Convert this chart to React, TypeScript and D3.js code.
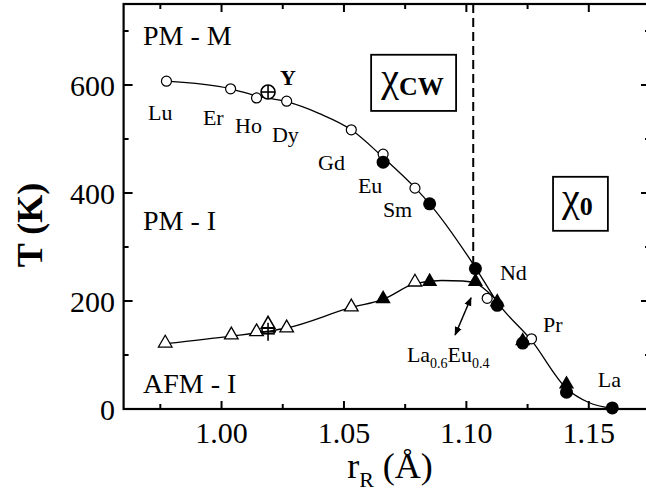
import React from "react";
import * as d3 from "d3";

// upper transition (PM-M / PM-I), open circles
const openCircles = [
  [0.9775, 607], [1.0037, 593], [1.0143, 576], [1.0266, 570], [1.053, 517],
  [1.066, 472], [1.079, 409], [1.1085, 205], [1.1266, 130],
];
const filledCircles = [
  [1.066, 457], [1.085, 380], [1.1037, 260], [1.1126, 192], [1.123, 122],
  [1.1409, 31], [1.1596, 2],
];
// lower transition (AFM-I), triangles
const openTriangles = [
  [0.977, 122], [1.004, 137], [1.0143, 143], [1.0266, 150], [1.053, 189], [1.079, 235],
];
const filledTriangles = [
  [1.066, 204], [1.085, 236], [1.1037, 236], [1.1126, 198], [1.123, 126], [1.1409, 46],
];
const yttriumCircle = [1.019, 587];
const yttriumTriangle = [1.019, 157];
const yttriumCross = [1.019, 143];

const upperCurve = [
  [0.9775, 607], [1.0037, 593], [1.0143, 580], [1.0266, 569], [1.04, 547],
  [1.053, 517], [1.066, 466], [1.079, 410], [1.085, 380], [1.1037, 262],
  [1.1126, 198], [1.1266, 127], [1.1409, 38], [1.15, 12], [1.1596, 1],
];
const lowerCurve = [
  [0.977, 121], [1.004, 135], [1.019, 144], [1.0266, 150], [1.053, 188],
  [1.066, 203], [1.079, 232], [1.09, 238], [1.0985, 237], [1.1037, 233],
  [1.1085, 218], [1.1126, 200],
];

const xMajor = [1.0, 1.05, 1.1, 1.15];
const xMinor = [0.975, 1.025, 1.075, 1.125];
const yMajor = [0, 200, 400, 600];
const yMinor = [100, 300, 500, 700];

const elementLabels = [
  { t: "Lu", x: 0.970, y: 535 },
  { t: "Er", x: 0.9924, y: 526 },
  { t: "Ho", x: 1.0055, y: 511 },
  { t: "Dy", x: 1.0206, y: 494 },
  { t: "Gd", x: 1.0394, y: 443 },
  { t: "Eu", x: 1.0557, y: 400 },
  { t: "Sm", x: 1.0659, y: 356 },
  { t: "Nd", x: 1.1137, y: 239 },
  { t: "Pr", x: 1.1313, y: 143 },
  { t: "La", x: 1.1537, y: 41 },
];
const phaseLabels = [
  { t: "PM - M", x: 0.9679, y: 674 },
  { t: "PM - I", x: 0.9679, y: 331 },
  { t: "AFM - I", x: 0.9679, y: 30 },
];
const boundaryX = 1.1028;

const width = 646;
const height = 495;
const serif = "Liberation Serif";

export default function App() {
  const x = d3.scaleLinear().domain([0.96, 1.175]).range([123.6, 650]);
  const y = d3.scaleLinear().domain([0, 750]).range([409, 4]);
  const line = d3
    .line<number[]>()
    .x((d) => x(d[0]))
    .y((d) => y(d[1]))
    .curve(d3.curveMonotoneX);
  const tri = d3.symbol().type(d3.symbolTriangle).size(80)();
  const triBig = d3.symbol().type(d3.symbolTriangle).size(100)();

  const left = x.range()[0];
  const right = x.range()[1];
  const top = y.range()[1];
  const bottom = y.range()[0];

  return (
    <svg
      width={width}
      height={height}
      style={{ position: "absolute", left: 0, top: 0, background: "#fff", fontFamily: serif }}
    >
      <defs>
        <marker id="ah" viewBox="0 0 10 10" refX="9" refY="5" markerWidth="6" markerHeight="6" orient="auto-start-reverse">
          <path d="M0,1 L10,5 L0,9 z" fill="#000" />
        </marker>
      </defs>

      {/* curves */}
      <path d={line(upperCurve) ?? ""} fill="none" stroke="#000" strokeWidth={1.3} />
      <path d={line(lowerCurve) ?? ""} fill="none" stroke="#000" strokeWidth={1.3} />

      {/* dashed boundary */}
      <line
        x1={x(boundaryX)}
        x2={x(boundaryX)}
        y1={top}
        y2={y(262)}
        stroke="#000"
        strokeWidth={2}
        strokeDasharray="9,5"
      />

      {/* markers */}
      {openTriangles.map((d, i) => (
        <path key={"ot" + i} d={tri ?? ""} transform={`translate(${x(d[0])},${y(d[1])})`} fill="#fff" stroke="#000" strokeWidth={1.3} />
      ))}
      {filledTriangles.map((d, i) => (
        <path key={"ft" + i} d={triBig ?? ""} transform={`translate(${x(d[0])},${y(d[1])})`} fill="#000" />
      ))}
      {openCircles.map((d, i) => (
        <circle key={"oc" + i} cx={x(d[0])} cy={y(d[1])} r={5} fill="#fff" stroke="#000" strokeWidth={1.2} />
      ))}
      {filledCircles.map((d, i) => (
        <circle key={"fc" + i} cx={x(d[0])} cy={y(d[1])} r={6.5} fill="#000" />
      ))}

      {/* Y: circle with cross, triangle with cross */}
      <g transform={`translate(${x(yttriumCircle[0])},${y(yttriumCircle[1])})`}>
        <circle r={7} fill="#fff" stroke="#000" strokeWidth={1.6} />
        <line x1={-7} x2={7} y1={0} y2={0} stroke="#000" strokeWidth={1.6} />
        <line x1={0} x2={0} y1={-7} y2={7} stroke="#000" strokeWidth={1.6} />
      </g>
      <path d={tri ?? ""} transform={`translate(${x(yttriumTriangle[0])},${y(yttriumTriangle[1])})`} fill="none" stroke="#000" strokeWidth={1.6} />
      <g transform={`translate(${x(yttriumCross[0])},${y(yttriumCross[1])})`} stroke="#000" strokeWidth={1.6}>
        <line x1={-8} x2={8} y1={0} y2={0} />
        <line x1={0} x2={0} y1={-9} y2={9} />
        <rect x={-6} y={-4} width={12} height={6} fill="none" />
      </g>

      {/* frame */}
      <rect x={left} y={top} width={right - left} height={bottom - top} fill="none" stroke="#000" strokeWidth={2.2} />

      {/* ticks */}
      {xMajor.map((v) => (
        <g key={"xM" + v}>
          <line x1={x(v)} x2={x(v)} y1={bottom} y2={bottom - 8} stroke="#000" strokeWidth={2} />
          <line x1={x(v)} x2={x(v)} y1={top} y2={top + 8} stroke="#000" strokeWidth={2} />
          <text x={x(v)} y={443} textAnchor="middle" fontSize={30}>
            {v.toFixed(2)}
          </text>
        </g>
      ))}
      {xMinor.map((v) => (
        <g key={"xm" + v}>
          <line x1={x(v)} x2={x(v)} y1={bottom} y2={bottom - 5} stroke="#000" strokeWidth={2} />
          <line x1={x(v)} x2={x(v)} y1={top} y2={top + 5} stroke="#000" strokeWidth={2} />
        </g>
      ))}
      {yMajor.map((v) => (
        <g key={"yM" + v}>
          <line x1={left} x2={left + 9} y1={y(v)} y2={y(v)} stroke="#000" strokeWidth={2} />
          <line x1={right} x2={right - 9} y1={y(v)} y2={y(v)} stroke="#000" strokeWidth={2} />
          <text x={115} y={y(v)} dy="0.35em" textAnchor="end" fontSize={30}>
            {v}
          </text>
        </g>
      ))}
      {yMinor.map((v) => (
        <g key={"ym" + v}>
          <line x1={left} x2={left + 5} y1={y(v)} y2={y(v)} stroke="#000" strokeWidth={2} />
          <line x1={right} x2={right - 5} y1={y(v)} y2={y(v)} stroke="#000" strokeWidth={2} />
        </g>
      ))}

      {/* axis titles */}
      <text transform="translate(42,225) rotate(-90)" textAnchor="middle" fontSize={36} fontWeight="bold">
        T (K)
      </text>
      <text x={390} y={478} textAnchor="middle" fontSize={36}>
        r<tspan fontSize={22} dy={9}>R</tspan>
        <tspan dy={-9}> (Å)</tspan>
      </text>

      {/* phase labels */}
      {phaseLabels.map((d) => (
        <text key={d.t} x={x(d.x)} y={y(d.y)} fontSize={28}>
          {d.t}
        </text>
      ))}

      {/* element labels */}
      {elementLabels.map((d) => (
        <text key={d.t} x={x(d.x)} y={y(d.y)} fontSize={22}>
          {d.t}
        </text>
      ))}
      <text x={x(1.0239)} y={y(600)} fontSize={22} fontWeight="bold">
        Y
      </text>

      {/* La0.6Eu0.4 */}
      <text x={x(1.0757)} y={y(87)} fontSize={22}>
        La<tspan fontSize={14} dy={6}>0.6</tspan>
        <tspan dy={-6}>Eu</tspan>
        <tspan fontSize={14} dy={6}>0.4</tspan>
      </text>
      <line
        x1={x(1.0954)}
        y1={y(137)}
        x2={x(1.1019)}
        y2={y(206)}
        stroke="#000"
        strokeWidth={1.5}
        markerStart="url(#ah)"
        markerEnd="url(#ah)"
      />

      {/* chi boxes */}
      <rect x={x(1.0611)} y={y(656)} width={x(1.0958) - x(1.0611)} height={y(552) - y(656)} fill="#fff" stroke="#000" strokeWidth={1.8} />
      <text x={x(1.0611) + 10} y={y(588)} fontSize={40}>
        χ<tspan fontSize={26} fontWeight="bold" dy={4}>CW</tspan>
      </text>
      <rect x={x(1.1354)} y={y(430)} width={x(1.1578) - x(1.1354)} height={y(330) - y(430)} fill="#fff" stroke="#000" strokeWidth={1.8} />
      <text x={x(1.1354) + 9} y={y(366)} fontSize={40}>
        χ<tspan fontSize={26} fontWeight="bold" dy={4}>0</tspan>
      </text>
    </svg>
  );
}
